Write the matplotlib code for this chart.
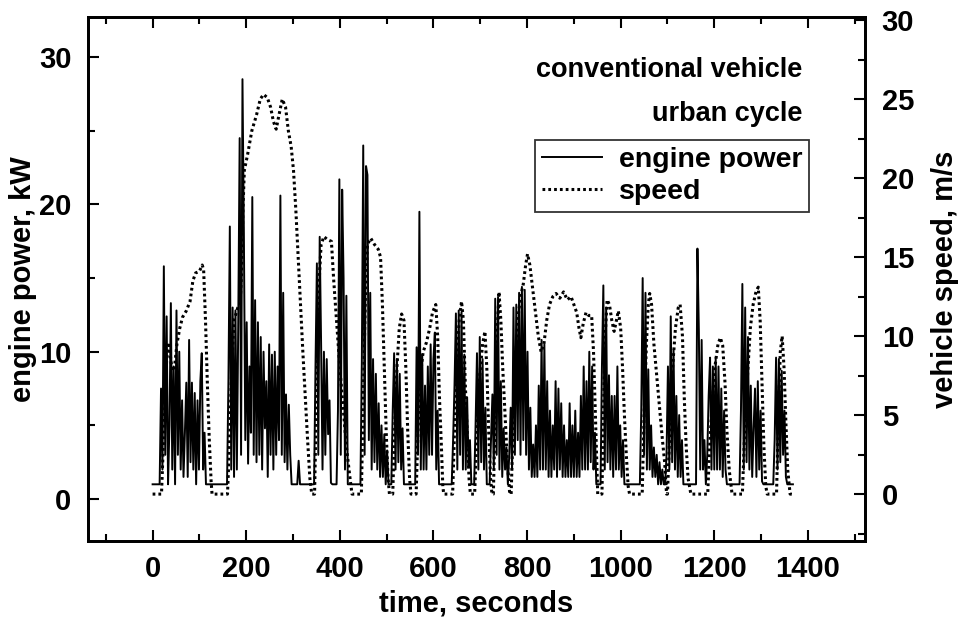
import numpy as np
import matplotlib
matplotlib.use("Agg")
import matplotlib.pyplot as plt
from matplotlib.ticker import MultipleLocator

plt.rcParams['font.family'] = ['Liberation Sans', 'DejaVu Sans']
plt.rcParams['font.weight'] = 'bold'

power_step = 3
power_kw = [
    1, 1, 1, 1, 1, 1, 7.5, 2.0, 15.8, 3.0, 12.4, 1.0, 5.0, 13.3, 2.0, 9.0, 1.0, 12.8, 3.0, 10.0,
    2.0, 6.7, 1.5, 4.5, 7.9, 1.5, 10.8, 2.5, 7.9, 2.0, 7.2, 1.0, 6.7, 2.0, 8.0, 9.9, 2.0, 4.5, 1.0, 1.0,
    1, 1, 1, 1, 1, 1, 1, 1, 1, 1, 1, 1, 1, 1, 8.0, 18.5, 2.0, 13.0, 1.5, 12.8,
    2.0, 12.0, 24.5, 3.0, 28.5, 18.0, 4.0, 12.0, 2.4, 9.0, 4.5, 20.5, 3.0, 13.5, 2.5, 12.0, 3.0, 11.0, 2.0, 10.0,
    4.8, 8.0, 1.5, 10.5, 3.0, 9.8, 2.0, 10.0, 3.0, 9.0, 4.0, 20.6, 3.0, 14.0, 2.5, 7.1, 2.0, 6.4, 3.0, 1.0,
    1, 1, 1, 1, 2.6, 1, 1, 1, 1, 1, 1, 1, 1, 1, 1, 1, 9.0, 16.0, 3.0, 17.8,
    10.5, 2.0, 10.0, 3.0, 9.5, 4.4, 6.7, 1.1, 1, 1, 1, 1, 6.0, 21.7, 3.0, 21.0, 15.0, 2.0, 13.8, 1.0,
    1, 1, 1, 1, 1, 1, 1, 1, 1, 9.3, 24.0, 3.0, 22.6, 22.0, 4.0, 14.0, 2.0, 9.5, 2.5, 8.5,
    2.0, 6.5, 1.5, 5.0, 1.5, 4.4, 1.0, 3.3, 1, 1, 1, 6.0, 9.9, 2.0, 9.5, 2.5, 8.5, 2.0, 4.8, 1.0,
    1, 1, 1, 1, 1, 1, 1, 1, 10.3, 3.0, 19.5, 2.0, 9.8, 2.0, 7.7, 2.0, 9.0, 3.0, 10.5, 3.0,
    9.5, 11.3, 2.0, 6.0, 1, 1, 1, 1, 1, 1, 1, 1, 1, 1, 4.0, 7.7, 12.6, 2.0, 12.8, 3.0,
    12.7, 2.0, 9.8, 2.0, 6.9, 2.2, 4.0, 1, 1, 1, 5.0, 9.9, 2.0, 11.0, 2.5, 9.5, 2.0, 6.2, 1, 1,
    1, 4.0, 7.1, 2.0, 13.6, 3.0, 13.7, 2.0, 8.0, 1.5, 4.8, 2.0, 3.5, 1, 3.0, 6.2, 2.0, 13.0, 3.0, 13.2,
    4.0, 14.0, 3.0, 14.4, 4.0, 14.2, 3.0, 10.0, 2.0, 6.2, 1.5, 3.7, 1.5, 5.0, 1.5, 7.7, 2.0, 10.8, 2.0, 10.5,
    2.0, 8.0, 1.5, 6.0, 1.5, 5.0, 2.0, 8.0, 1.5, 7.5, 2.0, 6.5, 1.5, 5.0, 1.5, 4.0, 1.5, 6.5, 1.5, 5.0,
    1.5, 6.0, 1.5, 4.5, 1.5, 7.0, 2.0, 9.0, 2.0, 8.0, 2.0, 10.0, 2.5, 9.0, 2.0, 4.5, 1.0, 1, 1, 1,
    9.0, 14.5, 2.0, 13.0, 2.5, 8.4, 2.0, 7.0, 1.5, 7.0, 2.0, 9.0, 2.0, 5.0, 1.5, 4.0, 1.0, 1, 1, 1,
    1, 1, 1, 1, 1, 1, 1, 1, 6.0, 15.0, 3.0, 14.0, 2.0, 8.8, 2.0, 5.0, 1.5, 3.5, 1.5, 3.0,
    1.0, 2.5, 1, 2.0, 1, 1, 3.0, 9.0, 2.0, 12.4, 2.5, 10.1, 2.0, 7.0, 1.5, 5.7, 1.5, 4.0, 1, 1,
    1, 1, 1, 1, 1, 1, 1, 1, 17.0, 11.5, 2.0, 10.8, 2.0, 4.0, 1, 3.0, 7.0, 9.6, 2.0, 9.0,
    2.0, 9.6, 2.0, 9.0, 2.0, 7.5, 1.5, 6.0, 2.0, 1, 1, 1, 1, 1, 1, 1, 1, 1, 1, 6.0,
    14.6, 2.0, 13.0, 2.5, 11.0, 2.0, 7.7, 1.5, 4.8, 7.5, 1.5, 8.0, 2.0, 6.0, 1.2, 1, 1, 1, 1, 1,
    1, 1, 1, 4.0, 9.6, 2.0, 9.5, 2.5, 8.7, 3.0, 6.0, 1.5, 1, 1, 1, 1, 1,
]
power_time = power_step * np.arange(len(power_kw))

# vehicle speed, m/s, at the corners of the dotted trace
speed_time = [
    0, 19, 24, 30, 35, 40, 46, 52, 58, 64, 72, 80, 86, 92, 100, 106, 109, 113, 117, 121, 125, 127,
    160, 164, 169, 174, 182, 187, 190, 193, 196, 203, 212, 222, 230, 237, 245, 252, 258, 264, 270,
    277, 284, 290, 296, 301, 306, 311, 316, 321, 326, 331, 336, 340,
    346, 350, 355, 360, 366, 374, 382, 387, 393, 400, 407, 414, 421, 426,
    446, 450, 455, 459, 466, 474, 482, 487, 491, 495, 499, 503, 506,
    513, 517, 522, 527, 532, 537, 541, 545, 549, 552,
    563, 567, 572, 578, 585, 592, 598, 605, 609, 613, 617, 620, 622,
    641, 645, 650, 655, 660, 664, 668, 672, 676, 679,
    688, 693, 699, 705, 710, 714, 718, 722, 725,
    728, 732, 736, 740, 744, 748, 753, 758, 763,
    766, 770, 775, 780, 786, 792, 797, 801, 806, 812, 818, 824, 830, 836, 842, 848, 855, 862,
    870, 878, 886, 894, 900, 906, 911, 915, 920, 926, 932, 938, 942, 945, 948, 951,
    960, 963, 967, 971, 976, 981, 986, 991, 995, 1000, 1004, 1008, 1012, 1016, 1019,
    1046, 1050, 1055, 1059, 1062, 1066, 1071, 1077, 1083, 1089, 1094, 1098,
    1100, 1105, 1111, 1117, 1123, 1127, 1132, 1136, 1140, 1144, 1150,
    1186, 1190, 1196, 1202, 1208, 1213, 1218, 1223, 1227, 1232, 1238,
    1260, 1265, 1271, 1277, 1283, 1289, 1294, 1298, 1302, 1306, 1310, 1313,
    1333, 1337, 1341, 1345, 1349, 1353, 1357, 1362, 1369,
]
speed_ms = [
    0, 0, 4, 8.5, 9.6, 8.2, 7.8, 9.5, 10.5, 11.2, 11.6, 12.2, 13.5, 14.0, 14.1, 14.5, 14.2, 11, 7, 3.5, 0.8, 0,
    0, 3, 8, 11, 11.8, 12, 14, 18, 20.5, 21.5, 23, 24, 25, 25.3, 25.1, 24.5, 23.6, 23.1, 24,
    25, 24.5, 23, 22, 20.5, 18, 15, 12, 9, 6.2, 3.5, 1, 0,
    0, 6, 13, 15.8, 16.3, 16.1, 16, 13.5, 11, 8, 5.5, 3, 1.2, 0,
    0, 6, 13, 15.8, 16.2, 15.8, 15.5, 15, 12, 8, 4, 1, 0,
    0, 4, 8, 10.5, 11.4, 11, 8, 4, 1, 0,
    0, 4, 7.5, 9.0, 9.6, 10.5, 11.5, 12, 10, 6, 3, 0.5, 0,
    0, 4, 8.5, 11, 12.2, 11, 7, 4, 1, 0,
    0, 4, 7.5, 9.5, 10.3, 8, 4, 1, 0,
    0, 5, 10, 12.8, 11, 8, 5, 2, 0,
    0, 4, 8, 11, 12.5, 13.3, 14.5, 15.2, 14.5, 13, 11.5, 10, 9, 9.5, 11, 12, 12.5, 12.7,
    12.4, 12.8, 12.3, 12.5, 12, 11.5, 10.5, 9.9, 10.8, 11.5, 11.3, 11.3, 9, 6, 3, 0,
    0, 5, 10, 12.3, 12, 11, 10.3, 11, 11.6, 10.5, 8, 5, 2.5, 0.5, 0,
    0, 5, 9.5, 12, 12.7, 12, 9.5, 7.5, 5.5, 3.5, 2, 0,
    0, 4, 8, 10.5, 11.8, 12, 10, 6, 3, 1, 0,
    0, 3, 6, 8.2, 9.5, 9.9, 9.4, 7, 4, 1.5, 0,
    0, 4, 7.5, 10.5, 12, 12.8, 13.1, 11, 7, 3, 0.5, 0,
    0, 5, 9, 10, 8, 4.5, 1.5, 0, 0,
]

fig = plt.figure(figsize=(9.64, 6.21), dpi=100)
ax = fig.add_axes([0.0913, 0.1288, 0.806, 0.8438])
ax2 = ax.twinx()

l1, = ax.plot(power_time, power_kw, color='black', lw=1.4, label='engine power')
l2, = ax2.plot(speed_time, speed_ms, color='black', lw=2.2, linestyle=(0, (0.9, 1.0)),
               label='speed')

ax.set_xlim(-138, 1522)
ax.set_ylim(-2.85, 32.72)
ax2.set_ylim(-2.97, 30.2)

ax.xaxis.set_major_locator(MultipleLocator(200))
ax.xaxis.set_minor_locator(MultipleLocator(100))
ax.yaxis.set_major_locator(MultipleLocator(10))
ax.yaxis.set_minor_locator(MultipleLocator(5))
ax2.yaxis.set_major_locator(MultipleLocator(5))
ax2.yaxis.set_minor_locator(MultipleLocator(2.5))

ax.tick_params(axis='x', which='both', direction='in', top=True, bottom=True,
               labelsize=21, pad=10, width=1.5)
ax.tick_params(axis='y', which='both', direction='in', right=False,
               labelsize=21, pad=12, width=1.5)
ax2.tick_params(axis='y', which='both', direction='in', labelsize=21, pad=12, width=1.5)
for a in (ax, ax2):
    a.tick_params(which='major', length=8)
    a.tick_params(which='minor', length=5)
    for s in a.spines.values():
        s.set_linewidth(2)

ax.set_xlabel('time, seconds', fontsize=21, fontweight='bold', labelpad=5)
ax.set_ylabel('engine power, kW', fontsize=21, fontweight='bold', labelpad=1)
ax2.set_ylabel('vehicle speed, m/s', fontsize=21, fontweight='bold', labelpad=12)

ax2.text(0.919, 0.886, 'conventional vehicle', transform=ax.transAxes,
         ha='right', va='baseline', fontsize=19.5, fontweight='bold')
ax2.text(0.919, 0.802, 'urban cycle', transform=ax.transAxes,
         ha='right', va='baseline', fontsize=19.5, fontweight='bold')

leg = ax2.legend([l1, l2], ['engine power', 'speed'], loc='upper left',
                 bbox_to_anchor=(0.575, 0.765), fontsize=20.5, frameon=True,
                 fancybox=False, borderaxespad=0, borderpad=0.25,
                 handlelength=2.1, handletextpad=0.6, labelspacing=0.2)
leg.get_frame().set_edgecolor('black')
leg.get_frame().set_linewidth(1.3)

fig.savefig('out.png', dpi=100)
